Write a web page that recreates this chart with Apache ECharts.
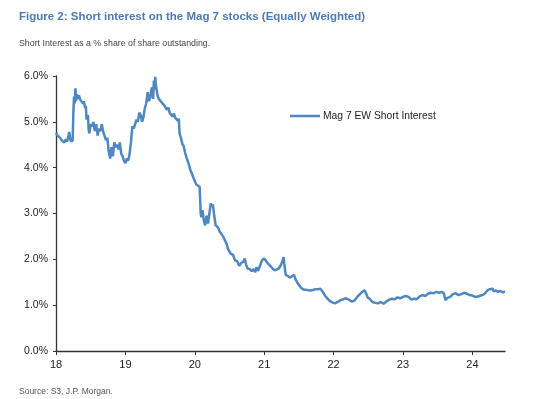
<!DOCTYPE html>
<html>
<head>
<meta charset="utf-8">
<script src="https://cdn.jsdelivr.net/npm/echarts@6/dist/echarts.min.js"></script>
<style>
  html, body { margin: 0; padding: 0; background: #fff; }
  #chart { width: 550px; height: 399px; }
</style>
</head>
<body>
<div id="chart"></div>
<script>
// time in years since start of 2018
var yearsSince2018 = [
  0.00, 0.02, 0.04, 0.06, 0.08, 0.10, 0.12, 0.14, 0.16, 0.18, 0.19, 0.21, 0.23, 0.24, 0.25, 0.26, 0.27, 0.28, 0.29, 0.30,
  0.32, 0.33, 0.35, 0.37, 0.39, 0.40, 0.42, 0.43, 0.44, 0.46, 0.47, 0.48, 0.50, 0.52, 0.54, 0.56, 0.58, 0.60, 0.62, 0.64,
  0.66, 0.68, 0.70, 0.72, 0.74, 0.76, 0.78, 0.80, 0.82, 0.84, 0.86, 0.88, 0.90, 0.92, 0.94, 0.96, 0.98, 1.00, 1.02, 1.04,
  1.06, 1.08, 1.10, 1.12, 1.14, 1.16, 1.18, 1.20, 1.22, 1.24, 1.26, 1.28, 1.30, 1.32, 1.34, 1.36, 1.38, 1.40, 1.41, 1.42,
  1.43, 1.44, 1.46, 1.48, 1.50, 1.52, 1.54, 1.56, 1.58, 1.60, 1.62, 1.64, 1.66, 1.68, 1.70, 1.72, 1.74, 1.76, 1.77, 1.78,
  1.80, 1.82, 1.84, 1.86, 1.88, 1.90, 1.92, 1.94, 1.96, 1.98, 2.00, 2.02, 2.04, 2.07, 2.085, 2.095, 2.11, 2.13, 2.15, 2.17,
  2.19, 2.21, 2.23, 2.25, 2.26, 2.28, 2.30, 2.32, 2.34, 2.36, 2.38, 2.40, 2.42, 2.44, 2.46, 2.48, 2.50, 2.52, 2.55, 2.58,
  2.61, 2.64, 2.67, 2.70, 2.72, 2.74, 2.76, 2.79, 2.82, 2.85, 2.87, 2.89, 2.91, 2.93, 2.95, 2.97, 3.00, 3.03, 3.06, 3.09,
  3.12, 3.15, 3.18, 3.21, 3.24, 3.26, 3.28, 3.29, 3.31, 3.34, 3.37, 3.40, 3.43, 3.45, 3.47, 3.49, 3.51, 3.53, 3.55, 3.57,
  3.59, 3.62, 3.66, 3.70, 3.74, 3.78, 3.81, 3.84, 3.88, 3.91, 3.94, 3.98, 4.02, 4.06, 4.10, 4.14, 4.18, 4.22, 4.26, 4.30,
  4.34, 4.38, 4.42, 4.45, 4.47, 4.49, 4.52, 4.56, 4.60, 4.64, 4.68, 4.72, 4.76, 4.80, 4.84, 4.88, 4.92, 4.96, 5.00, 5.04,
  5.08, 5.12, 5.16, 5.20, 5.24, 5.28, 5.32, 5.36, 5.40, 5.44, 5.48, 5.52, 5.56, 5.59, 5.61, 5.64, 5.68, 5.72, 5.76, 5.80,
  5.84, 5.88, 5.92, 5.96, 6.00, 6.04, 6.08, 6.12, 6.16, 6.19, 6.22, 6.25, 6.27, 6.29, 6.31, 6.34, 6.37, 6.40, 6.44, 6.47
];

// short interest, % of shares outstanding
var shortInterest = [
  4.76, 4.70, 4.74, 4.65, 4.60, 4.63, 4.55, 4.62, 4.57, 4.70, 4.78, 4.58, 4.62, 4.58, 5.20, 5.55, 5.40, 5.73, 5.45, 5.60,
  5.50, 5.58, 5.48, 5.52, 5.40, 5.45, 5.30, 5.35, 5.05, 5.15, 4.85, 4.75, 4.95, 4.90, 5.00, 4.80, 4.95, 4.70, 4.85, 4.80,
  4.95, 4.78, 4.82, 4.60, 4.65, 4.35, 4.20, 4.45, 4.25, 4.55, 4.45, 4.50, 4.40, 4.55, 4.30, 4.25, 4.15, 4.10, 4.20, 4.15,
  4.30, 4.55, 4.90, 4.85, 4.95, 5.05, 5.00, 5.20, 5.15, 5.00, 5.10, 5.30, 5.40, 5.65, 5.45, 5.55, 5.75, 5.50, 5.90, 5.70,
  5.98, 5.80, 5.60, 5.50, 5.52, 5.43, 5.47, 5.36, 5.40, 5.26, 5.31, 5.19, 5.23, 5.12, 5.18, 5.08, 5.10, 5.02, 5.07, 4.75,
  4.65, 4.52, 4.47, 4.33, 4.22, 4.14, 4.04, 3.93, 3.87, 3.78, 3.74, 3.64, 3.62, 3.58, 3.00, 2.92, 3.07, 2.85, 2.74, 2.95,
  2.78, 3.00, 3.22, 3.15, 3.20, 2.95, 2.75, 2.71, 2.68, 2.60, 2.62, 2.52, 2.50, 2.40, 2.33, 2.22, 2.24, 2.12, 2.10, 1.98,
  1.96, 1.86, 1.92, 1.95, 2.02, 1.88, 1.80, 1.79, 1.74, 1.79, 1.72, 1.83, 1.75, 1.73, 1.90, 1.98, 2.02, 1.96, 1.90, 1.85,
  1.80, 1.76, 1.78, 1.80, 1.87, 1.95, 2.05, 1.90, 1.66, 1.64, 1.60, 1.63, 1.66, 1.57, 1.55, 1.46, 1.45, 1.38, 1.37, 1.34,
  1.32, 1.33, 1.32, 1.33, 1.35, 1.35, 1.36, 1.30, 1.20, 1.15, 1.10, 1.06, 1.04, 1.07, 1.11, 1.13, 1.15, 1.12, 1.08, 1.10,
  1.18, 1.24, 1.30, 1.32, 1.25, 1.17, 1.14, 1.07, 1.05, 1.04, 1.07, 1.03, 1.08, 1.12, 1.14, 1.13, 1.17, 1.15, 1.18, 1.20,
  1.18, 1.12, 1.14, 1.13, 1.19, 1.22, 1.20, 1.25, 1.27, 1.26, 1.29, 1.27, 1.29, 1.26, 1.11, 1.16, 1.18, 1.24, 1.26, 1.22,
  1.24, 1.27, 1.25, 1.22, 1.21, 1.18, 1.19, 1.21, 1.23, 1.27, 1.33, 1.35, 1.33, 1.36, 1.30, 1.32, 1.29, 1.31, 1.28, 1.30
];

var yearTicks = [2018, 2019, 2020, 2021, 2022, 2023, 2024];
var seriesName = 'Mag 7 EW Short Interest';

var points = [];
for (var i = 0; i < shortInterest.length; i++) {
    points.push([2018 + yearsSince2018[i], shortInterest[i]]);
}

var font = "'Liberation Sans', Arial, sans-serif";
var myChart = echarts.init(document.getElementById('chart'));

option = {
    animation: false,
    backgroundColor: '#fff',
    textStyle: { fontFamily: font },
    title: [
        {
            text: 'Figure 2: Short interest on the Mag 7 stocks (Equally Weighted)',
            left: 19, top: 11, padding: 0,
            textStyle: { fontFamily: font, fontSize: 11.5, fontWeight: 'bold', color: '#4a7db5' }
        },
        {
            text: 'Short Interest as a % share of share outstanding.',
            left: 19, top: 39, padding: 0,
            textStyle: { fontFamily: font, fontSize: 8.8, fontWeight: 'normal', color: '#444' }
        },
        {
            text: 'Source: S3, J.P. Morgan.',
            left: 19, top: 387, padding: 0,
            textStyle: { fontFamily: font, fontSize: 8.5, fontWeight: 'normal', color: '#555' }
        }
    ],
    legend: {
        data: [seriesName],
        left: 290, top: 111, padding: 0,
        icon: 'rect',
        itemWidth: 30,
        itemHeight: 2.5,
        itemGap: 4,
        textStyle: { fontFamily: font, fontSize: 10.3, color: '#222', padding: [0, 0, 0, -2] }
    },
    grid: { left: 56, right: 45, top: 76, bottom: 48 },
    xAxis: {
        type: 'value',
        min: 2018,
        max: 2024.47,
        interval: 1,
        splitLine: { show: false },
        axisLine: { lineStyle: { color: '#333', width: 1.3 } },
        axisTick: { length: 4, lineStyle: { color: '#333' }, customValues: yearTicks },
        axisLabel: {
            customValues: yearTicks,
            color: '#222', fontSize: 11, margin: 8,
            formatter: function (v) { return String(v % 100); }
        }
    },
    yAxis: {
        type: 'value',
        min: 0,
        max: 6,
        interval: 1,
        splitLine: { show: false },
        axisLine: { show: true, lineStyle: { color: '#333', width: 1.3 } },
        axisTick: { show: true, length: 3, lineStyle: { color: '#333' } },
        axisLabel: {
            color: '#222', fontSize: 10.5, margin: 8,
            formatter: function (v) { return v.toFixed(1) + '%'; }
        }
    },
    series: [
        {
            name: seriesName,
            type: 'line',
            data: points,
            showSymbol: false,
            color: '#4f87c0',
            lineStyle: { width: 2.5, color: '#4f87c0' }
        }
    ]
};
myChart.setOption(option);
</script>
</body>
</html>
